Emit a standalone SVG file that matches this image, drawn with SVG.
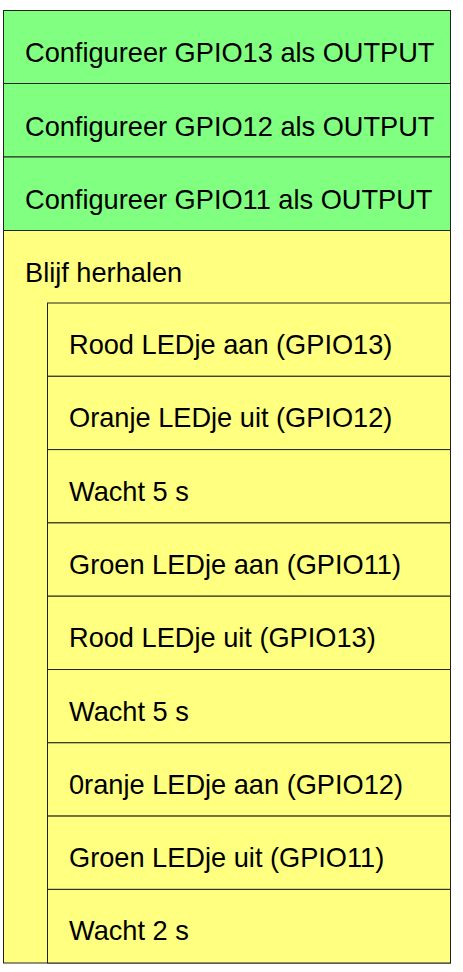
<svg xmlns="http://www.w3.org/2000/svg" width="463" height="972" viewBox="0 0 463 972">
<style>
.g{fill:#80FF80;stroke:#222;stroke-width:1}
.y{fill:#FFFF80;stroke:#222;stroke-width:1}
.t{font-family:"Liberation Sans",Arial,sans-serif;font-size:27.2px;fill:#000}
</style>
<rect x="0" y="0" width="463" height="972" fill="#fff"/>
<g id="n1"><rect class="g" x="3.5" y="10.5" width="447" height="73"/><text class="t" x="25" y="62">Configureer GPIO13 als OUTPUT</text></g>
<g id="n2"><rect class="g" x="3.5" y="83.5" width="447" height="73.5"/><text class="t" x="25" y="135.5">Configureer GPIO12 als OUTPUT</text></g>
<g id="n3"><rect class="g" x="3.5" y="157" width="447" height="73.5"/><text class="t" x="25" y="209">Configureer GPIO11 als OUTPUT</text></g>
<g id="loop"><rect class="y" x="3.5" y="230.5" width="447" height="732.5"/><text class="t" x="25" y="282">Blijf herhalen</text></g>
<g id="s1"><rect class="y" x="47.5" y="303" width="403" height="73.3"/><text class="t" x="69" y="354">Rood LEDje aan (GPIO13)</text></g>
<g id="s2"><rect class="y" x="47.5" y="376.3" width="403" height="73.3"/><text class="t" x="69" y="427.3">Oranje LEDje uit (GPIO12)</text></g>
<g id="s3"><rect class="y" x="47.5" y="449.6" width="403" height="73.3"/><text class="t" x="69" y="500.6">Wacht 5 s</text></g>
<g id="s4"><rect class="y" x="47.5" y="522.9" width="403" height="73.3"/><text class="t" x="69" y="573.9">Groen LEDje aan (GPIO11)</text></g>
<g id="s5"><rect class="y" x="47.5" y="596.2" width="403" height="73.3"/><text class="t" x="69" y="647.2">Rood LEDje uit (GPIO13)</text></g>
<g id="s6"><rect class="y" x="47.5" y="669.5" width="403" height="73.3"/><text class="t" x="69" y="720.5">Wacht 5 s</text></g>
<g id="s7"><rect class="y" x="47.5" y="742.8" width="403" height="73.3"/><text class="t" x="69" y="793.8">0ranje LEDje aan (GPIO12)</text></g>
<g id="s8"><rect class="y" x="47.5" y="816.1" width="403" height="73.3"/><text class="t" x="69" y="867.1">Groen LEDje uit (GPIO11)</text></g>
<g id="s9"><rect class="y" x="47.5" y="889.4" width="403" height="73.6"/><text class="t" x="69" y="940.4">Wacht 2 s</text></g>
<g id="connectors"></g>
</svg>
